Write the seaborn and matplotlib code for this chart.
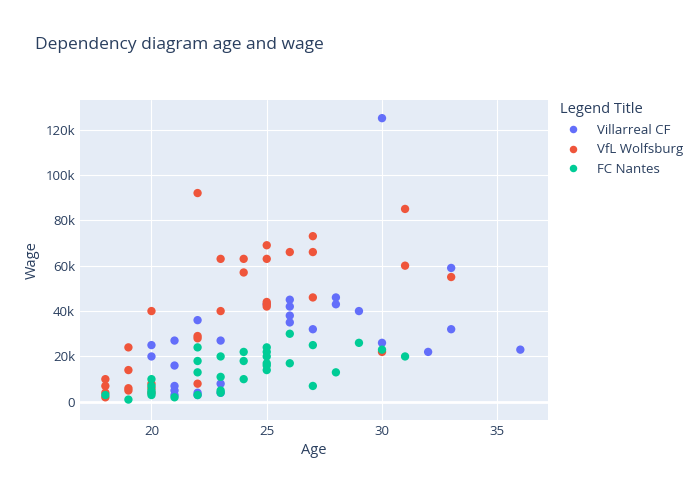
import matplotlib
matplotlib.use("Agg")
import matplotlib.pyplot as plt
import seaborn as sns
import pandas as pd
from matplotlib.ticker import FuncFormatter

villarreal_age = [20, 20, 21, 21, 21, 21, 21, 22, 22, 22, 23, 23, 23, 25, 26, 26, 26, 26, 27,
                  28, 28, 29, 30, 30, 32, 33, 33, 36]
villarreal_wage = [25, 20, 27, 16, 7, 5, 3, 36, 4, 3, 27, 8, 4, 43, 45, 42, 38, 35, 32,
                   46, 43, 40, 125, 26, 22, 59, 32, 23]
wolfsburg_age = [18, 18, 18, 18, 19, 19, 19, 19, 20, 20, 20, 20, 22, 22, 22, 22, 23, 23, 24, 24,
                 25, 25, 25, 25, 25, 26, 27, 27, 27, 30, 31, 31, 33]
wolfsburg_wage = [10, 7, 4, 2, 24, 14, 6, 5, 40, 8, 6, 4, 92, 29, 28, 8, 63, 40, 63, 57,
                  69, 63, 44, 43, 42, 66, 73, 66, 46, 22, 85, 60, 55]
nantes_age = [18, 19, 20, 20, 20, 20, 20, 21, 22, 22, 22, 22, 23, 23, 23, 23, 24, 24, 24,
              25, 25, 25, 25, 25, 25, 26, 26, 27, 27, 28, 29, 30, 31]
nantes_wage = [3, 1, 10, 7, 5, 4, 3, 2, 24, 18, 13, 3, 20, 11, 5, 4, 22, 18, 10,
               24, 22, 20, 17, 16, 14, 30, 17, 25, 7, 13, 26, 23, 20]
teams = ["Villarreal CF", "VfL Wolfsburg", "FC Nantes"]

df = pd.concat([
    pd.DataFrame({"Age": villarreal_age, "Wage": [w * 1000 for w in villarreal_wage], "team": teams[0]}),
    pd.DataFrame({"Age": wolfsburg_age, "Wage": [w * 1000 for w in wolfsburg_wage], "team": teams[1]}),
    pd.DataFrame({"Age": nantes_age, "Wage": [w * 1000 for w in nantes_wage], "team": teams[2]}),
])

sns.set_style("darkgrid", {"axes.facecolor": "#E5ECF6", "grid.color": "white"})
plt.rcParams["font.family"] = ["Open Sans", "DejaVu Sans"]
txt = "#2a3f5f"

fig = plt.figure(figsize=(7, 5), dpi=100)
ax = fig.add_axes([80 / 700, 80 / 500, 468 / 700, 320 / 500])
sns.scatterplot(data=df, x="Age", y="Wage", hue="team", palette=["#636efa", "#EF553B", "#00cc96"],
                s=36, edgecolor="none", ax=ax)
ax.set_xlim(16.9, 37.2)
ax.set_ylim(-8000, 133000)
ax.set_xticks([20, 25, 30, 35])
ax.set_yticks(range(0, 130000, 20000))
ax.yaxis.set_major_formatter(FuncFormatter(lambda v, p: "0" if v == 0 else f"{int(v/1000)}k"))
ax.axhline(0, color="white", lw=2, zorder=0)
for s in ax.spines.values():
    s.set_visible(False)
ax.tick_params(colors=txt, labelsize=9.5, length=0)
ax.set_xlabel("Age", color=txt, fontsize=10.5)
ax.set_ylabel("Wage", color=txt, fontsize=10.5)
fig.text(35 / 700, 1 - 45 / 500, "Dependency diagram age and wage", color=txt, fontsize=12.5, va="center")
leg = ax.legend(title="Legend Title", loc="upper left", bbox_to_anchor=(1.0, 1.03), frameon=False,
                fontsize=9.5, title_fontsize=10.5, markerscale=0.9, alignment="left")
for t in leg.get_texts():
    t.set_color(txt)
leg.get_title().set_color(txt)
fig.savefig("out.png", dpi=100)
